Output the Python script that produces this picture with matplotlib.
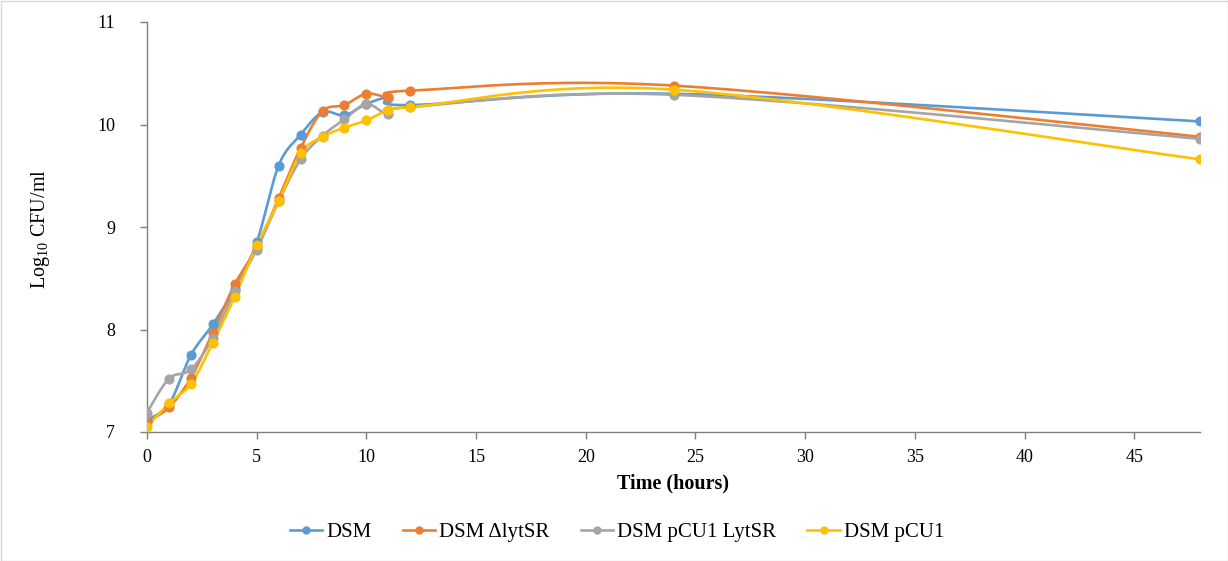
import numpy as np
import matplotlib
matplotlib.use("Agg")
import matplotlib.pyplot as plt
from matplotlib.patches import Rectangle

time_h = [0, 1, 2, 3, 4, 5, 6, 7, 8, 9, 10, 11, 12, 24, 48]
dsm = [7.12, 7.27, 7.75, 8.05, 8.40, 8.85, 9.60, 9.90, 10.12, 10.09, 10.20, 10.26, 10.19, 10.30, 10.03]
dsm_dlyt = [7.10, 7.24, 7.53, 7.97, 8.44, 8.80, 9.28, 9.77, 10.13, 10.19, 10.30, 10.27, 10.33, 10.38, 9.88]
dsm_pcu1_lyt = [7.19, 7.52, 7.61, 7.92, 8.38, 8.78, 9.25, 9.66, 9.89, 10.05, 10.20, 10.10, 10.17, 10.29, 9.86]
dsm_pcu1 = [7.05, 7.28, 7.47, 7.87, 8.32, 8.82, 9.25, 9.72, 9.88, 9.97, 10.04, 10.14, 10.17, 10.34, 9.66]

series_names = ["DSM", "DSM \u0394lytSR", "DSM pCU1 LytSR", "DSM pCU1"]
series_colors = ["#5B9BD5", "#ED7D31", "#A5A5A5", "#FFC000"]
x_ticks = [0, 5, 10, 15, 20, 25, 30, 35, 40, 45]
y_ticks = [7, 8, 9, 10, 11]


def smooth(x, y, n=30):
    x = np.asarray(x, float); y = np.asarray(y, float)
    P = np.column_stack([x, y])
    Pe = np.vstack([P[0], P, P[-1]])
    out = []
    for i in range(len(P) - 1):
        p0, p1, p2, p3 = Pe[i], Pe[i + 1], Pe[i + 2], Pe[i + 3]
        c1 = p1 + (p2 - p0) / 6.0
        c2 = p2 - (p3 - p1) / 6.0
        t = np.linspace(0, 1, n)[:, None]
        b = ((1 - t) ** 3) * p1 + 3 * ((1 - t) ** 2) * t * c1 + 3 * (1 - t) * t ** 2 * c2 + t ** 3 * p2
        out.append(b if i == 0 else b[1:])
    b = np.vstack(out)
    return b[:, 0], b[:, 1]


plt.rcParams['font.family'] = ['Liberation Serif', 'DejaVu Serif']
plt.rcParams['mathtext.fontset'] = 'custom'
plt.rcParams['mathtext.rm'] = 'Liberation Serif'

W, H = 1228, 561
fig = plt.figure(figsize=(W / 100, H / 100), dpi=100)
ax = fig.add_axes([147 / W, 1 - 432 / H, (1200 - 147) / W, (432 - 22) / H])

for name, vals, col in zip(series_names, [dsm, dsm_dlyt, dsm_pcu1_lyt, dsm_pcu1], series_colors):
    sx, sy = smooth(time_h, vals)
    ax.plot(sx, sy, color=col, lw=1.9, solid_capstyle='round', zorder=2)
    ax.plot(time_h, vals, 'o', color=col, ms=6.3, zorder=3)
    ax.plot([], [], '-o', color=col, lw=1.9, ms=5, label=name)

ax.set_xlim(0, 48)
ax.set_ylim(7, 11)
ax.set_xticks(x_ticks)
ax.set_yticks(y_ticks)
for s in ['top', 'right']:
    ax.spines[s].set_visible(False)
for s in ['left', 'bottom']:
    ax.spines[s].set_color('#7F7F7F')
    ax.spines[s].set_linewidth(1.0)
ax.tick_params(axis='both', colors='#7F7F7F', labelcolor='black', labelsize=13, length=5, width=1.0)
ax.tick_params(axis='x', pad=7)
ax.tick_params(axis='y', pad=18)

fig.text(673 / W, 1 - 483 / H, "Time (hours)", fontsize=14.5, fontweight='bold', ha='center', va='center')
fig.text(40 / W, 1 - 229 / H, "Log$_{10}$ CFU/ml", fontsize=14.5, rotation=90, ha='center', va='center')

leg = ax.legend(loc='center', bbox_to_anchor=(617 / W, 1 - 532 / H), bbox_transform=fig.transFigure,
                ncol=4, frameon=False, fontsize=15, handlelength=1.55, columnspacing=1.5, handletextpad=0.2)

fig.patches.append(Rectangle((0.5 / W, 0.5 / H), 1 - 1 / W, 1 - 1 / H, transform=fig.transFigure,
                             fill=False, edgecolor='#D9D9D9', lw=1.0))

fig.savefig("out.png", dpi=100)
